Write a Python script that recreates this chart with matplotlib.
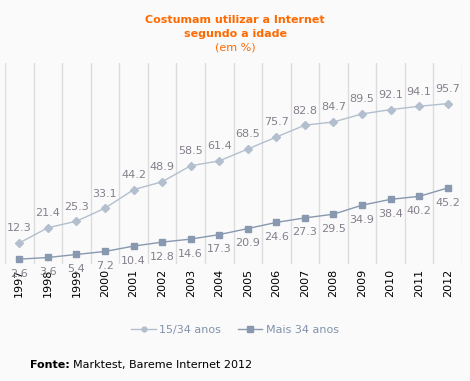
import numpy as np
import matplotlib
matplotlib.use("Agg")
import matplotlib.pyplot as plt
from matplotlib.lines import Line2D

# %%
### Data ######################################################################
years = ["1997", "1998", "1999", "2000", "2001", "2002", "2003", "2004",
         "2005", "2006", "2007", "2008", "2009", "2010", "2011", "2012"]
jovens = [12.3, 21.4, 25.3, 33.1, 44.2, 48.9, 58.5, 61.4,
          68.5, 75.7, 82.8, 84.7, 89.5, 92.1, 94.1, 95.7]
mais34 = [2.6, 3.6, 5.4, 7.2, 10.4, 12.8, 14.6, 17.3,
          20.9, 24.6, 27.3, 29.5, 34.9, 38.4, 40.2, 45.2]
series_names = ["15/34 anos", "Mais 34 anos"]

# %%
### Style #####################################################################
bg = "#FAFAFA"
c_light = "#B3BFCE"
c_dark = "#8798AF"
c_label = "#857F8C"
c_legend = "#8192AA"
orange = "#FF6A00"

plt.rcParams["font.family"] = "DejaVu Sans"

fig = plt.figure(figsize=(4.70, 3.81), dpi=100, facecolor=bg)
ax = fig.add_axes([5 / 470, 1 - 263.5 / 381, 457 / 470, 200.5 / 381])
ax.set_facecolor(bg)

x = np.arange(len(years))

ax.plot(x, jovens, color=c_light, lw=1.0, marker="D", ms=4.3,
        mfc=c_light, mec=c_light, zorder=3)
ax.plot(x, mais34, color=c_dark, lw=1.0, marker="s", ms=4.5,
        mfc=c_dark, mec=c_dark, zorder=3)

for xi, v in zip(x, jovens):
    ax.annotate(f"{v:.1f}", (xi, v), xytext=(0, 10.5), textcoords="offset points",
                ha="center", va="center", fontsize=8, color=c_label)
for xi, v in zip(x, mais34):
    ax.annotate(f"{v:.1f}", (xi, v), xytext=(0, -10.5), textcoords="offset points",
                ha="center", va="center", fontsize=8, color=c_label)

ax.set_xlim(-0.5, len(years) - 0.5)
ax.set_ylim(0, 120)
for b in np.arange(-0.5, len(years), 1.0):
    ax.axvline(b, color="#DCDCDC", lw=1.0, zorder=1)

ax.set_xticks(x)
ax.set_xticklabels(years, rotation=90, fontsize=8, color="black")
ax.tick_params(axis="x", length=0, pad=4)
ax.set_yticks([])
for s in ax.spines.values():
    s.set_visible(False)

# title
fig.text(0.5, 1 - 20 / 381, "Costumam utilizar a Internet", ha="center", va="center",
         fontsize=8, fontweight="bold", color=orange)
fig.text(0.5, 1 - 34 / 381, "segundo a idade", ha="center", va="center",
         fontsize=8, fontweight="bold", color=orange)
fig.text(0.5, 1 - 47 / 381, "(em %)", ha="center", va="center",
         fontsize=8, color=orange)

# legend
handles = [
    Line2D([], [], color=c_light, lw=1.0, marker="o", ms=3.5, mfc=c_light, mec=c_light),
    Line2D([], [], color=c_dark, lw=1.0, marker="s", ms=5, mfc=c_dark, mec=c_dark),
]
leg = fig.legend(handles, series_names, loc="center", bbox_to_anchor=(0.5, 1 - 330 / 381),
                 ncol=2, frameon=False, fontsize=8, handlelength=2.2, handletextpad=0.3,
                 columnspacing=1.5)
for t in leg.get_texts():
    t.set_color(c_legend)

# source
src_bold = fig.text(30 / 470, 1 - 365 / 381, "Fonte:", ha="left", va="center",
                    fontsize=8, fontweight="bold", color="black")
fig.canvas.draw()
bb = src_bold.get_window_extent()
fig.text((bb.x1 + 3) / 470, 1 - 365 / 381, "Marktest, Bareme Internet 2012",
         ha="left", va="center", fontsize=8, color="black")

fig.savefig("out.png", dpi=100, facecolor=bg)
